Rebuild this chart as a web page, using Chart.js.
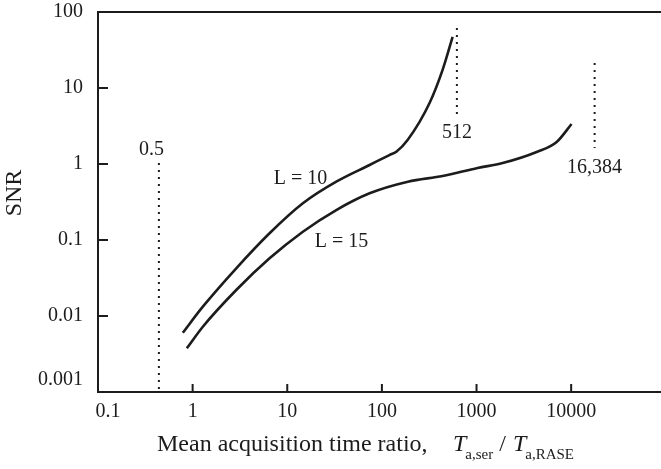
<!DOCTYPE html>
<html>
<head>
<meta charset="utf-8">
<script src="https://cdn.jsdelivr.net/npm/chart.js@4/dist/chart.umd.min.js"></script>
<style>
  html, body { margin: 0; padding: 0; background: #fff; overflow: hidden; }
</style>
</head>
<body>
<canvas id="snrChart" width="661" height="469"></canvas>
<script>
/* ---------- data ---------- */
const l10X = [0.788, 1.282, 2.89, 6.5, 14.62, 32.96, 74.1, 120, 142, 187, 319, 438, 559];
const l10Y = [0.00603, 0.01326, 0.0424, 0.1225, 0.304, 0.585, 0.97, 1.31, 1.452, 2.07, 6.35, 17.3, 46.9];

const l15X = [0.868, 1.282, 2.89, 6.5, 14.62, 32.96, 74.1, 188.3, 438, 1027, 1888, 4318, 7030, 10100];
const l15Y = [0.00376, 0.00723, 0.02198, 0.0574, 0.1286, 0.248, 0.4117, 0.585, 0.695, 0.886, 1.03, 1.44, 1.95, 3.36];

// dotted marker lines (x position, top, bottom)
const guideX = [0.44, 620, 17700];
const guideTop = [1.03, 61.6, 21.3];
const guideBottom = [0.001, 4.4, 1.62];

const xTicks = [0.1, 1, 10, 100, 1000, 10000];
const yTicks = [0.001, 0.01, 0.1, 1, 10, 100];

// text notes on the plot: [text, x value, y value]
const notes = [
  ['0.5', 0.368, 1.53],
  ['512', 620, 2.56],
  ['16,384', 17700, 0.886],
  ['L = 10', 13.8, 0.635],
  ['L = 15', 37.5, 0.094]
];

const ink = '#1c1c1c';
const serif = '"Liberation Serif", "Times New Roman", serif';

/* ---------- datasets ---------- */
const toPts = (xs, ys) => xs.map((v, i) => ({ x: v, y: ys[i] }));

const datasets = [
  { data: toPts(l10X, l10Y), borderColor: ink, borderWidth: 2.6, pointRadius: 0,
    cubicInterpolationMode: 'monotone', fill: false },
  { data: toPts(l15X, l15Y), borderColor: ink, borderWidth: 2.6, pointRadius: 0,
    cubicInterpolationMode: 'monotone', fill: false }
];
guideX.forEach((gx, i) => {
  datasets.push({
    data: [{ x: gx, y: guideTop[i] }, { x: gx, y: guideBottom[i] }],
    borderColor: ink, borderWidth: 2, borderDash: [2, 5], pointRadius: 0, fill: false
  });
});

/* ---------- frame, inward ticks, titles, notes ---------- */
const decorations = {
  id: 'decorations',
  afterDraw(chart) {
    const { ctx, chartArea: a, scales: { x, y } } = chart;
    ctx.save();
    ctx.strokeStyle = ink;
    ctx.lineWidth = 2;
    ctx.beginPath();
    ctx.moveTo(a.right + 4, a.top);
    ctx.lineTo(a.left, a.top);
    ctx.lineTo(a.left, a.bottom);
    ctx.lineTo(a.right + 4, a.bottom);
    xTicks.slice(1).forEach(v => {
      const px = x.getPixelForValue(v);
      ctx.moveTo(px, a.bottom);
      ctx.lineTo(px, a.bottom - 8);
    });
    yTicks.slice(1, -1).forEach(v => {
      const py = y.getPixelForValue(v);
      ctx.moveTo(a.left, py);
      ctx.lineTo(a.left + 10, py);
    });
    ctx.stroke();

    ctx.fillStyle = ink;
    ctx.textAlign = 'center';
    ctx.textBaseline = 'middle';
    ctx.font = '20px ' + serif;
    notes.forEach(([t, vx, vy]) => {
      ctx.fillText(t, x.getPixelForValue(vx), y.getPixelForValue(vy));
    });

    // y title
    ctx.save();
    ctx.translate(15, 193);
    ctx.rotate(-Math.PI / 2);
    ctx.font = '24px ' + serif;
    ctx.fillText('SNR', 0, 0);
    ctx.restore();

    // x title with subscripts
    ctx.textAlign = 'left';
    ctx.textBaseline = 'alphabetic';
    const base = 451;
    let cx = 157;
    ctx.font = '24px ' + serif;
    ctx.fillText('Mean acquisition time ratio,', cx, base);
    cx = 453;
    ctx.font = 'italic 24px ' + serif;
    ctx.fillText('T', cx, base);
    cx += ctx.measureText('T').width - 1;
    ctx.font = '15px ' + serif;
    ctx.fillText('a,ser', cx, base + 8);
    cx += ctx.measureText('a,ser').width + 6;
    ctx.font = '24px ' + serif;
    ctx.fillText('/', cx, base);
    cx += ctx.measureText('/').width + 7;
    ctx.font = 'italic 24px ' + serif;
    ctx.fillText('T', cx, base);
    cx += ctx.measureText('T').width - 1;
    ctx.font = '15px ' + serif;
    ctx.fillText('a,RASE', cx, base + 8);
    ctx.restore();
  }
};

/* ---------- chart ---------- */
new Chart(document.getElementById('snrChart'), {
  type: 'line',
  data: { datasets },
  options: {
    responsive: false,
    animation: false,
    layout: { padding: { top: 12, right: 0, left: 0, bottom: 0 } },
    plugins: { legend: { display: false }, tooltip: { enabled: false } },
    scales: {
      x: {
        type: 'logarithmic',
        min: 0.1,
        max: 89000,
        afterBuildTicks: s => { s.ticks = xTicks.map(v => ({ value: v })); },
        afterFit: s => { s.height = 77; s.paddingLeft = 0; s.paddingRight = 0; },
        grid: { display: false, drawTicks: false },
        border: { display: false },
        ticks: {
          color: ink,
          padding: 8,
          maxRotation: 0,
          autoSkip: false,
          font: { family: serif, size: 20 },
          callback: v => (v === 0.1 ? '    0.1' : String(v))
        }
      },
      y: {
        type: 'logarithmic',
        min: 0.001,
        max: 100,
        afterBuildTicks: s => { s.ticks = yTicks.map(v => ({ value: v })); },
        afterFit: s => { s.width = 98; s.paddingTop = 0; s.paddingBottom = 0; },
        grid: { display: false, drawTicks: false },
        border: { display: false },
        ticks: {
          color: ink,
          padding: 15,
          autoSkip: false,
          font: { family: serif, size: 20 },
          callback: v => (v === 0.001 ? ['0.001', ''] : String(v))
        }
      }
    }
  },
  plugins: [decorations]
});
</script>
</body>
</html>
